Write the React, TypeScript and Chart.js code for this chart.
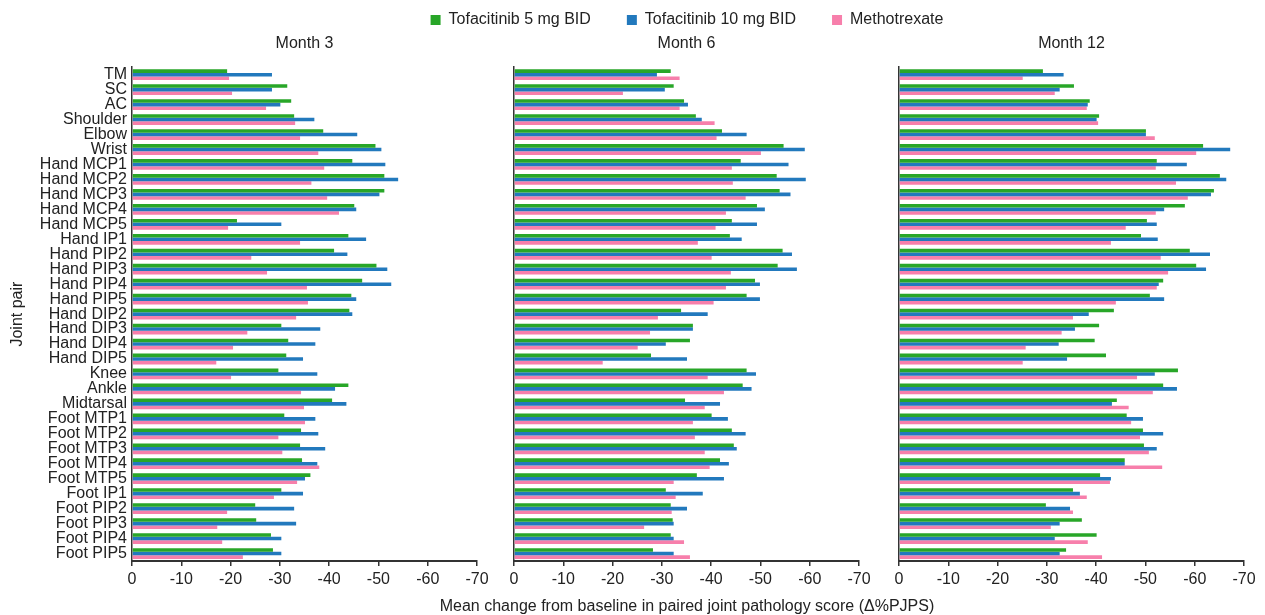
import React, { useEffect, useRef } from "react";
import { Chart, registerables } from "chart.js";

Chart.register(...registerables);

const FONT = "'Liberation Sans', Arial, Helvetica, sans-serif";
const TEXT = "#222222";
const AXIS = "#333333";

const seriesNames = ["Tofacitinib 5 mg BID", "Tofacitinib 10 mg BID", "Methotrexate"];
const seriesColors = ["#28a628", "#2279bd", "#f77fab"];
const monthTitles = ["Month 3", "Month 6", "Month 12"];
const xAxisTitle = "Mean change from baseline in paired joint pathology score (Δ%PJPS)";
const yAxisTitle = "Joint pair";

const joints = [
  "TM", "SC", "AC", "Shoulder", "Elbow", "Wrist",
  "Hand MCP1", "Hand MCP2", "Hand MCP3", "Hand MCP4", "Hand MCP5",
  "Hand IP1", "Hand PIP2", "Hand PIP3", "Hand PIP4", "Hand PIP5",
  "Hand DIP2", "Hand DIP3", "Hand DIP4", "Hand DIP5",
  "Knee", "Ankle", "Midtarsal",
  "Foot MTP1", "Foot MTP2", "Foot MTP3", "Foot MTP4", "Foot MTP5",
  "Foot IP1", "Foot PIP2", "Foot PIP3", "Foot PIP4", "Foot PIP5",
];

// Month 3
const tofa5M3 = [-19.3, -31.5, -32.3, -32.9, -38.8, -49.4, -44.7, -51.2, -51.2, -45.1, -21.3, -43.9, -41.0, -49.6, -46.7, -44.5, -44.1, -30.3, -31.7, -31.3, -29.7, -43.9, -40.6, -30.9, -34.3, -34.1, -34.5, -36.2, -30.3, -25.0, -25.2, -28.2, -28.6];
const tofa10M3 = [-28.4, -28.4, -30.1, -37.0, -45.7, -50.6, -51.4, -54.0, -50.2, -45.5, -30.3, -47.5, -43.7, -51.8, -52.6, -45.5, -44.7, -38.2, -37.2, -34.7, -37.6, -41.2, -43.5, -37.2, -37.8, -39.2, -37.6, -35.1, -34.7, -32.9, -33.3, -30.3, -30.3];
const mtxM3 = [-19.7, -20.3, -27.2, -33.1, -34.1, -37.8, -39.0, -36.4, -39.6, -42.0, -19.5, -34.1, -24.2, -27.4, -35.5, -35.7, -33.3, -23.4, -20.5, -17.1, -20.1, -34.3, -34.9, -35.1, -29.7, -30.5, -38.0, -33.5, -28.8, -19.3, -17.3, -18.3, -22.5];

// Month 6
const tofa5M6 = [-31.8, -32.4, -34.5, -36.9, -42.2, -54.7, -46.0, -53.3, -53.9, -49.3, -44.2, -43.8, -54.5, -53.5, -48.9, -47.2, -33.9, -36.3, -35.7, -27.8, -47.2, -46.4, -34.7, -40.1, -44.2, -44.6, -41.8, -37.1, -30.8, -31.8, -32.2, -31.8, -28.2];
const tofa10M6 = [-29.0, -30.6, -35.3, -38.1, -47.2, -59.0, -55.7, -59.2, -56.1, -50.9, -49.3, -46.2, -56.4, -57.4, -49.9, -49.9, -39.3, -36.3, -30.8, -35.1, -49.1, -48.2, -41.8, -43.4, -47.0, -45.2, -43.6, -42.6, -38.3, -35.1, -32.4, -32.4, -32.4];
const mtxM6 = [-33.6, -22.1, -33.6, -40.7, -41.1, -50.1, -44.2, -44.4, -47.0, -43.0, -40.9, -37.3, -40.1, -44.0, -43.0, -40.5, -29.2, -27.6, -25.1, -18.0, -39.3, -42.6, -38.7, -36.3, -36.7, -38.7, -39.7, -32.4, -32.8, -32.0, -26.4, -34.5, -35.7];

// Month 12
const tofa5M12 = [-29.2, -35.5, -38.7, -40.6, -50.1, -61.7, -52.3, -65.1, -63.9, -58.0, -50.3, -49.1, -59.0, -60.3, -53.6, -50.9, -43.6, -40.6, -39.7, -42.0, -56.6, -53.6, -44.2, -46.2, -49.5, -49.7, -45.8, -40.8, -35.3, -29.8, -37.1, -40.1, -33.9];
const tofa10M12 = [-33.4, -32.6, -38.3, -40.1, -50.1, -67.2, -58.4, -66.4, -63.3, -53.8, -52.3, -52.5, -63.1, -62.3, -52.7, -53.8, -38.5, -35.7, -32.4, -34.1, -51.9, -56.4, -43.2, -49.5, -53.6, -52.3, -45.8, -43.0, -36.7, -34.7, -32.6, -31.6, -32.6];
const mtxM12 = [-25.1, -31.6, -38.1, -40.4, -51.9, -60.3, -52.1, -56.2, -58.6, -52.1, -46.0, -43.0, -53.1, -54.6, -52.3, -44.0, -35.3, -33.0, -25.7, -25.1, -48.3, -51.5, -46.6, -47.1, -48.9, -50.7, -53.4, -42.8, -38.1, -35.3, -30.8, -38.3, -41.2];

const panelValues = [
  [tofa5M3, tofa10M3, mtxM3],
  [tofa5M6, tofa10M6, mtxM6],
  [tofa5M12, tofa10M12, mtxM12],
];

const xMin = -70;
const xMax = 0;
const xStep = 10;

// layout geometry (canvas placement)
const panelBoxes = [
  { left: 0, width: 495, yWidth: 132, padRight: 18 },
  { left: 495, width: 390, yWidth: 19, padRight: 26 },
  { left: 885, width: 380, yWidth: 14, padRight: 21 },
];
const PANEL_TOP = 30;
const PANEL_HEIGHT = 585;
// full-page frame that carries the shared legend (top) and shared x-axis title (bottom)
const FRAME_BOX = { left: 0, top: -24, width: 1265, height: 639, padLeft: 109 };

function panelConfig(i: number): any {
  const box = panelBoxes[i];
  return {
    type: "bar",
    data: {
      labels: joints,
      datasets: seriesNames.map((name, k) => ({
        label: name,
        data: panelValues[i][k],
        backgroundColor: seriesColors[k],
        borderWidth: 0,
        categoryPercentage: 0.72,
        barPercentage: 1.0,
      })),
    },
    options: {
      indexAxis: "y",
      animation: false,
      responsive: false,
      maintainAspectRatio: false,
      events: [],
      layout: { padding: { left: 0, right: box.padRight, top: 0, bottom: 0 } },
      plugins: {
        legend: { display: false },
        tooltip: { enabled: false },
        title: {
          display: true,
          text: monthTitles[i],
          fullSize: false,
          color: TEXT,
          font: { family: FONT, size: 16, weight: "normal", lineHeight: 1.2 },
          padding: { top: 4, bottom: 14 },
        },
      },
      scales: {
        x: {
          type: "linear",
          min: xMin,
          max: xMax,
          reverse: true,
          ticks: {
            stepSize: xStep,
            color: TEXT,
            font: { family: FONT, size: 16 },
            padding: 4,
            maxRotation: 0,
            autoSkip: false,
          },
          grid: {
            display: true,
            drawOnChartArea: false,
            drawTicks: true,
            tickLength: 5,
            color: AXIS,
            lineWidth: 1.5,
          },
          border: { display: true, color: AXIS, width: 2 },
          afterFit: (s: any) => {
            s.height = 54;
          },
        },
        y: {
          type: "category",
          ticks: {
            display: i === 0,
            color: TEXT,
            font: { family: FONT, size: 16 },
            padding: 5,
            autoSkip: false,
          },
          grid: { display: false, drawTicks: false },
          border: { display: true, color: AXIS, width: 1.5 },
          title: {
            display: i === 0,
            text: yAxisTitle,
            color: TEXT,
            font: { family: FONT, size: 16, lineHeight: 1.2 },
            padding: { top: 8, bottom: 0 },
          },
          afterFit: (s: any) => {
            s.width = box.yWidth;
          },
        },
      },
    },
  };
}

function frameConfig(): any {
  return {
    type: "bar",
    data: {
      labels: [],
      datasets: seriesNames.map((name, k) => ({
        label: name,
        data: [],
        backgroundColor: seriesColors[k],
        borderWidth: 0,
      })),
    },
    options: {
      animation: false,
      responsive: false,
      maintainAspectRatio: false,
      events: [],
      layout: { padding: { left: FRAME_BOX.padLeft, right: 0, top: 0, bottom: 0 } },
      scales: { x: { display: false }, y: { display: false } },
      plugins: {
        tooltip: { enabled: false },
        legend: {
          display: true,
          position: "top",
          labels: {
            boxWidth: 10,
            boxHeight: 10,
            padding: 36,
            color: TEXT,
            font: { family: FONT, size: 16 },
          },
        },
        title: {
          display: true,
          text: xAxisTitle,
          position: "bottom",
          fullSize: true,
          color: TEXT,
          font: { family: FONT, size: 16, weight: "normal", lineHeight: 1 },
          padding: { top: 0, bottom: 0 },
        },
      },
    },
  };
}

export default function App() {
  const c0 = useRef<HTMLCanvasElement | null>(null);
  const c1 = useRef<HTMLCanvasElement | null>(null);
  const c2 = useRef<HTMLCanvasElement | null>(null);
  const cf = useRef<HTMLCanvasElement | null>(null);

  useEffect(() => {
    Chart.defaults.font.family = FONT;
    Chart.defaults.color = TEXT;
    const charts: Chart[] = [];
    [c0, c1, c2].forEach((r, i) => {
      if (r.current) charts.push(new Chart(r.current, panelConfig(i)));
    });
    if (cf.current) charts.push(new Chart(cf.current, frameConfig()));
    return () => charts.forEach((c) => c.destroy());
  }, []);

  const refs = [c0, c1, c2];
  return (
    <div
      style={{
        position: "absolute",
        left: 0,
        top: 0,
        width: 1265,
        height: 615,
        overflow: "hidden",
        background: "#ffffff",
      }}
    >
      {panelBoxes.map((b, i) => (
        <canvas
          key={i}
          ref={refs[i]}
          width={b.width}
          height={PANEL_HEIGHT}
          style={{
            position: "absolute",
            left: b.left,
            top: PANEL_TOP,
            width: b.width,
            height: PANEL_HEIGHT,
            pointerEvents: "none",
          }}
        />
      ))}
      <canvas
        ref={cf}
        width={FRAME_BOX.width}
        height={FRAME_BOX.height}
        style={{
          position: "absolute",
          left: FRAME_BOX.left,
          top: FRAME_BOX.top,
          width: FRAME_BOX.width,
          height: FRAME_BOX.height,
          pointerEvents: "none",
        }}
      />
    </div>
  );
}
